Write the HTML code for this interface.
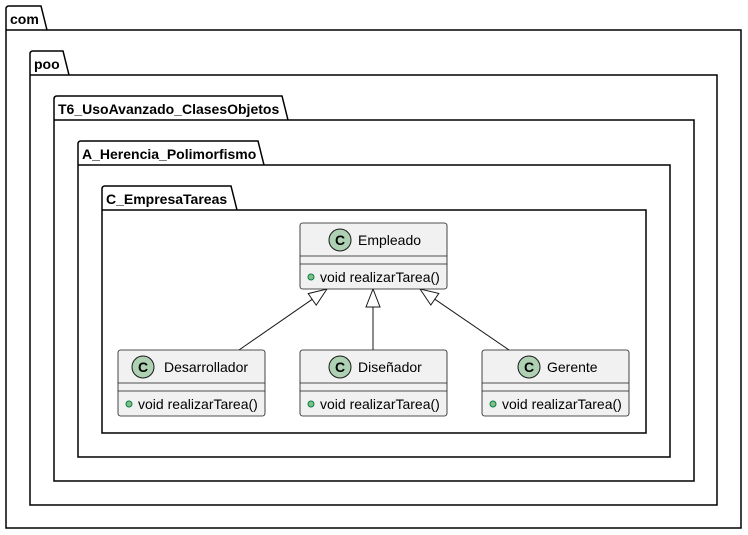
<!DOCTYPE html>
<html><head><style>body{margin:0;background:#fff}svg{display:block}text{font-family:"Liberation Sans",sans-serif}</style></head><body>
<svg width="748" height="535" viewBox="0 0 748 535" xmlns="http://www.w3.org/2000/svg">
<g fill="none" stroke="#000" stroke-width="1.5">
<path d="M6,30 V9 Q6,6 9,6 H41 L47,30 H741 V528 H6 Z M6,30 H47"/>
<path d="M30,75 V54 Q30,51 33,51 H63 L69,75 H717 V505 H30 Z M30,75 H69"/>
<path d="M54,120 V99 Q54,96 57,96 H282 L288,120 H694 V481 H54 Z M54,120 H288"/>
<path d="M78,165 V144 Q78,141 81,141 H258 L264,165 H670 V457 H78 Z M78,165 H264"/>
<path d="M102,210 V189 Q102,186 105,186 H231 L237,210 H646 V433 H102 Z M102,210 H237"/>
</g>
<g font-weight="bold" font-size="14" fill="#000">
<text x="10" y="24">com</text>
<text x="34" y="69">poo</text>
<text x="58" y="114">T6_UsoAvanzado_ClasesObjetos</text>
<text x="82" y="159">A_Herencia_Polimorfismo</text>
<text x="106" y="204">C_EmpresaTareas</text>
</g>
<g stroke="#181818" stroke-width="1">
<line x1="312.2" y1="299.3" x2="239" y2="350"/>
<line x1="373" y1="307" x2="373" y2="350"/>
<line x1="434.8" y1="299.2" x2="509" y2="350"/>
<g fill="#fff">
<polygon points="327,289 316.2,305.1 308.2,293.6"/>
<polygon points="373,289 366,307 380,307"/>
<polygon points="420,289 430.8,305 438.8,293.4"/>
</g>
</g>
<defs>
<g id="cls">
<rect x="0" y="0" width="147" height="66" rx="2.5" fill="#f1f1f1" stroke="#181818" stroke-width="0.8"/>
<line x1="0" y1="33" x2="147" y2="33" stroke="#181818" stroke-width="0.8"/>
<line x1="0" y1="41" x2="147" y2="41" stroke="#181818" stroke-width="0.8"/>
<circle cx="11" cy="54" r="3" fill="#84BE84" stroke="#038048" stroke-width="1"/>
<text x="20" y="59" font-size="14" fill="#000">void realizarTarea()</text>
</g>
</defs>
<g font-size="14">
<g transform="translate(300,223)"><use href="#cls"/><circle cx="40" cy="17" r="11" fill="#ADD1B2" stroke="#181818"/><text x="40" y="22" text-anchor="middle" font-weight="bold" font-size="14">C</text><text x="58" y="22">Empleado</text></g>
<g transform="translate(118,350)"><use href="#cls"/><circle cx="25" cy="17" r="11" fill="#ADD1B2" stroke="#181818"/><text x="25" y="22" text-anchor="middle" font-weight="bold" font-size="14">C</text><text x="46" y="22">Desarrollador</text></g>
<g transform="translate(300,350)"><use href="#cls"/><circle cx="40" cy="17" r="11" fill="#ADD1B2" stroke="#181818"/><text x="40" y="22" text-anchor="middle" font-weight="bold" font-size="14">C</text><text x="58" y="22">Diseñador</text></g>
<g transform="translate(482,350)"><use href="#cls"/><circle cx="47" cy="17" r="11" fill="#ADD1B2" stroke="#181818"/><text x="47" y="22" text-anchor="middle" font-weight="bold" font-size="14">C</text><text x="65" y="22">Gerente</text></g>
</g>
</svg>
</body></html>
